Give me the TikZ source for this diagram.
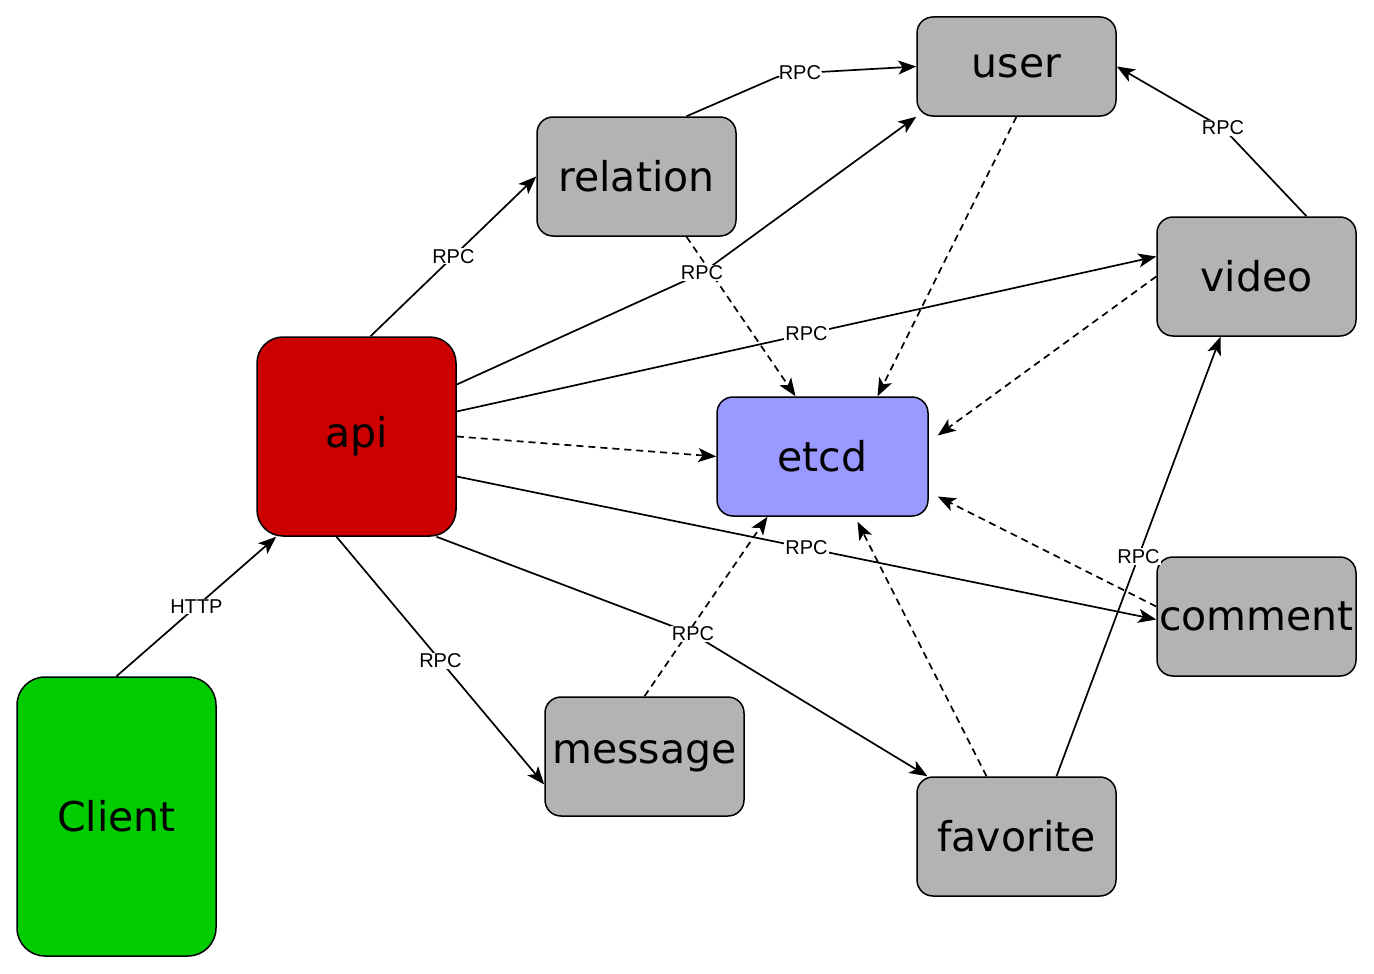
\documentclass[tikz,border=0pt]{standalone}
\usepackage{fontspec}
\setmainfont{DejaVu Sans}
\newfontfamily\lblfont{Liberation Sans}
\usetikzlibrary{arrows.meta}
\definecolor{grx}{HTML}{00CC00}
\definecolor{rdx}{HTML}{CC0000}
\definecolor{gax}{HTML}{B3B3B3}
\definecolor{blx}{HTML}{9999FF}
\tikzset{
    box/.style={draw,line width=1.5pt,rounded corners=16pt,minimum width=199pt,minimum height=119pt,
        inner sep=0pt,font=\fontsize{41}{47}\selectfont},
    svc/.style={box,fill=gax},
    rpc/.style={line width=1.7pt,-{Stealth[length=18pt,width=14pt,inset=4.5pt]}},
    reg/.style={rpc,dash pattern=on 7pt off 5pt},
    lbl/.style={fill=white,inner sep=1pt,font=\lblfont\fontsize{20}{20}\selectfont}
}

\begin{document}
\begin{tikzpicture}[x=1pt,y=-1pt]
            \useasboundingbox (0,0) rectangle (1374,974);
            % services
            \node [box,fill=grx,minimum height=279pt,rounded corners=28pt] (Client) at (116.5,816.5) {Client};
            \node [box,fill=rdx,minimum height=199pt,rounded corners=26pt] (api) at (356.5,436.5) {api};
            \node [svc] (relation) at (636.5,176.5) {relation};
            \node [svc,minimum height=99pt] (user) at (1016.5,66.5) {user};
            \node [svc] (video) at (1256.5,276.5) {video};
            \node [box,fill=blx,minimum width=211pt] (etcd) at (822.5,456.5) {etcd};
            \node [svc] (comment) at (1256.5,616.5) {comment};
            \node [svc] (message) at (644.5,756.5) {message};
            \node [svc] (favorite) at (1016.5,836.5) {favorite};
            % registry
            \draw [reg] (api.east) -- (etcd.west);
            \draw [reg] ([xshift=50pt]relation.south) -- ([xshift=-27pt]etcd.north);
            \draw [reg] (user.south) -- ([xshift=55pt]etcd.north);
            \draw [reg] (video.west) -- ([xshift=9pt,yshift=21pt]etcd.east);
            \draw [reg] ([yshift=10pt]comment.west) -- ([xshift=9pt,yshift=-40pt]etcd.east);
            \draw [reg] ([xshift=-30pt]favorite.north) -- ([xshift=35pt,yshift=-5pt]etcd.south);
            \draw [reg] (message.north) -- ([xshift=-55pt]etcd.south);
            % calls
            \draw [rpc] (Client.north) -- node [lbl] (http) {HTTP} ([xshift=20pt]api.south west);
            \draw [rpc] ([xshift=14pt]api.north) -- node [lbl] (r1) {RPC} (relation.west);
            \draw [rpc,rounded corners=10pt] ([xshift=50pt]relation.north)
                -- (784,74)
                -- node [lbl,pos=0.12] (r2) {RPC} (user.west);
            \draw [rpc] ([yshift=52pt]api.east) -- (702,273) node [lbl] (r3) {RPC} -- (user.south west);
            \draw [rpc] ([yshift=25pt]api.east) -- node [lbl] (r4) {RPC} ([yshift=20pt]video.west);
            \draw [rpc] ([yshift=-40pt]api.east) -- node [lbl] (r5) {RPC} ([yshift=-3pt]comment.west);
            \draw [rpc] ([xshift=80pt]api.south) -- (693,634) node [lbl] (r6) {RPC} -- ([xshift=-89pt]favorite.north);
            \draw [rpc] ([xshift=-20pt]api.south) -- node [lbl] (r7) {RPC} ([yshift=-28pt]message.west);
            \draw [rpc] ([xshift=50pt]video.north) -- (1223,128) node [lbl] (r8) {RPC} -- (user.east);
            \draw [rpc] ([xshift=40pt]favorite.north) -- node [lbl] (r9) {RPC} ([xshift=-36pt]video.south);
        \end{tikzpicture}
\end{document}
